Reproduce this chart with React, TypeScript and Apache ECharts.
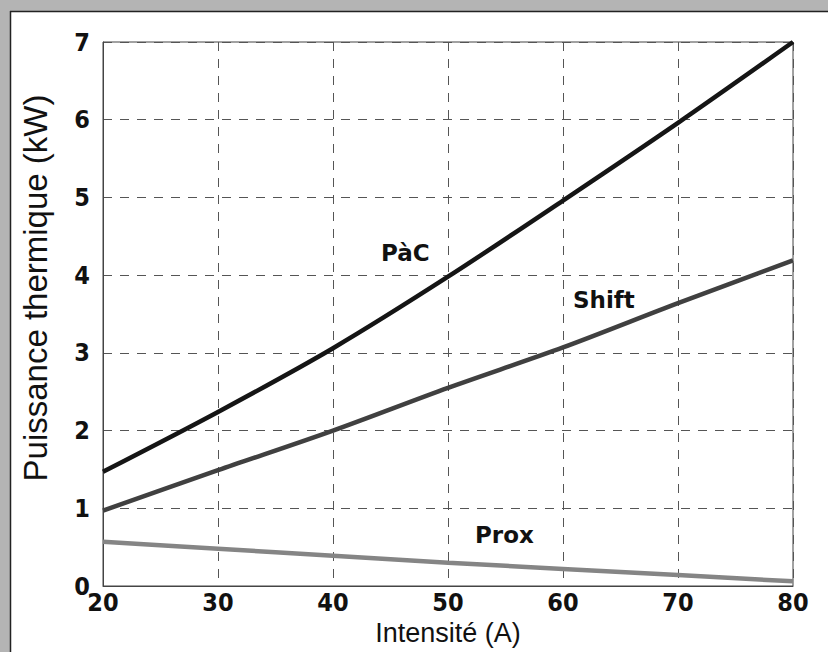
import React, { useEffect, useRef } from "react";
import * as echarts from "echarts";

const intensity = [20, 30, 40, 50, 60, 70, 80];
const pacValues = [1.47, 2.24, 3.06, 3.98, 4.96, 5.96, 7.0];
const shiftValues = [0.97, 1.49, 2.0, 2.55, 3.07, 3.64, 4.19];
const proxValues = [0.57, 0.48, 0.39, 0.3, 0.22, 0.14, 0.06];
const xTicks = [20, 30, 40, 50, 60, 70, 80];
const yTicks = [0, 1, 2, 3, 4, 5, 6, 7];
const seriesLabels = ["PàC", "Shift", "Prox"];
const xName = "Intensité (A)";
const yName = "Puissance thermique (kW)";

export default function App() {
  const ref = useRef<HTMLDivElement>(null);
  useEffect(() => {
    if (!ref.current) return;
    const chart = echarts.init(ref.current, null, { renderer: "svg" });
    const pair = (vals: number[]) => intensity.map((x, i) => [x, vals[i]]);
    const labelFont = {
      fontFamily: "DejaVu Sans",
      fontWeight: "bold",
      fontSize: 23,
      fill: "#111",
    };
    const tickFont = {
      fontFamily: "DejaVu Sans Condensed",
      fontWeight: "bold",
      fontSize: 25,
      color: "#111",
    };
    chart.setOption({
      animation: false,
      backgroundColor: "#ffffff",
      grid: {
        left: 103,
        right: 35,
        top: 42,
        bottom: 66,
        show: true,
        borderColor: "#444",
        borderWidth: 1,
      },
      xAxis: {
        type: "value",
        min: xTicks[0],
        max: xTicks[xTicks.length - 1],
        interval: 10,
        name: xName,
        nameLocation: "middle",
        nameGap: 33,
        nameTextStyle: {
          fontFamily: "Liberation Sans",
          fontSize: 27,
          color: "#111",
        },
        axisLine: { show: true, lineStyle: { color: "#444", width: 1 } },
        axisTick: { show: false },
        axisLabel: { ...tickFont, margin: 4 },
        splitLine: {
          show: true,
          lineStyle: { color: "#555", type: [9, 8], width: 1 },
        },
      },
      yAxis: {
        type: "value",
        min: yTicks[0],
        max: yTicks[yTicks.length - 1],
        interval: 1,
        axisLine: { show: true, lineStyle: { color: "#444", width: 1 } },
        axisTick: { show: false },
        axisLabel: { ...tickFont, margin: 13 },
        splitLine: {
          show: true,
          lineStyle: { color: "#555", type: [9, 8], width: 1 },
        },
      },
      series: [
        {
          name: seriesLabels[0],
          type: "line",
          data: pair(pacValues),
          smooth: 0.3,
          showSymbol: false,
          lineStyle: { color: "#151515", width: 4.5 },
        },
        {
          name: seriesLabels[1],
          type: "line",
          data: pair(shiftValues),
          smooth: 0.3,
          showSymbol: false,
          lineStyle: { color: "#404040", width: 4.5 },
        },
        {
          name: seriesLabels[2],
          type: "line",
          data: pair(proxValues),
          smooth: 0.3,
          showSymbol: false,
          lineStyle: { color: "#858585", width: 4.5 },
        },
      ],
      graphic: [
        { type: "rect", shape: { x: 0, y: 0, width: 828, height: 11 }, style: { fill: "#b4b4b4" }, silent: true },
        { type: "rect", shape: { x: 0, y: 0, width: 10, height: 652 }, style: { fill: "#b4b4b4" }, silent: true },
        { type: "line", shape: { x1: 10, y1: 11.5, x2: 828, y2: 11.5 }, style: { stroke: "#222", lineWidth: 1.5 }, silent: true },
        { type: "line", shape: { x1: 10.5, y1: 11, x2: 10.5, y2: 652 }, style: { stroke: "#222", lineWidth: 1.5 }, silent: true },
        {
          type: "text",
          x: 35,
          y: 288,
          rotation: Math.PI / 2,
          style: {
            text: yName,
            fontFamily: "Liberation Sans",
            fontSize: 33,
            fill: "#111",
            align: "center",
            verticalAlign: "middle",
          },
        },
        { type: "text", x: 381, y: 253, style: { ...labelFont, text: seriesLabels[0], textVerticalAlign: "middle" } },
        { type: "text", x: 573, y: 300, style: { ...labelFont, text: seriesLabels[1], textVerticalAlign: "middle" } },
        { type: "text", x: 475, y: 535, style: { ...labelFont, text: seriesLabels[2], textVerticalAlign: "middle" } },
      ],
    });
    return () => chart.dispose();
  }, []);
  return (
    <div
      ref={ref}
      style={{ position: "fixed", left: 0, top: 0, width: 828, height: 652 }}
    />
  );
}
